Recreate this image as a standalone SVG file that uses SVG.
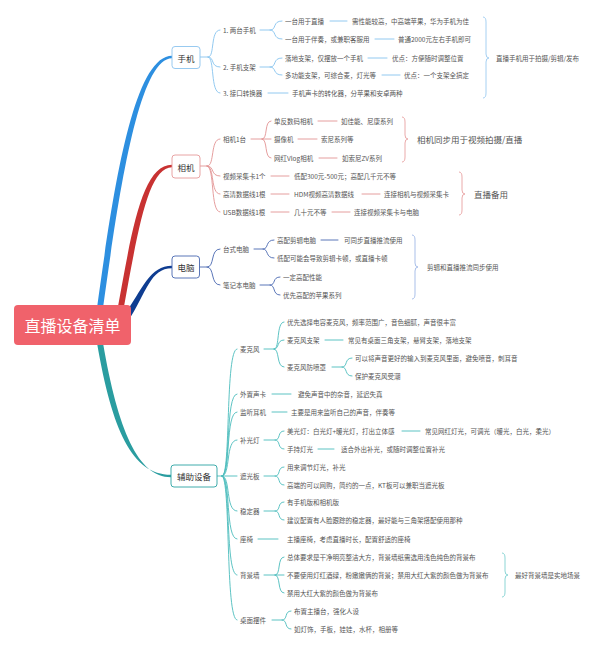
<svg xmlns="http://www.w3.org/2000/svg" width="600" height="651" viewBox="0 0 600 651">
<style>
text{font-family:"Noto Sans CJK SC","Noto Sans",sans-serif;dominant-baseline:central}
.t{font-size:6.5px;fill:#555}
.s2{font-size:8.5px;fill:#555}
.bl{font-size:8.5px;fill:#333;text-anchor:middle}
.root{font-size:16px;fill:#fff;text-anchor:middle}
.c{fill:none;stroke-width:0.9;stroke-linecap:round}
.cb{stroke:#86c3ee}.cr{stroke:#e29393}.cd{stroke:#4767b0}.ct{stroke:#4bbcbc}
.br{fill:none;stroke-width:0.9}
.box{fill:#fff;stroke-width:0.9}
</style>
<rect width="600" height="651" fill="#fff"/>
<g id="connectors">
  <path d="M97 308 C112 200 132 55.8 172 55.8 L172 58.2 C138 58.2 118 200 103 308 Z" fill="#2d8fe0"/>
  <path d="M117 312 C132 230 142 164.8 172 164.8 L172 167.2 C148 167.2 138 230 123 312 Z" fill="#c83232"/>
  <path d="M122.5 318 C143 288 150 265.8 172 265.8 L172 268.2 C150 268.2 147 292 127.5 322 Z" fill="#0f3d91"/>
  <path d="M97 343 C112 430 132 474.8 171 474.8 L171 477.2 C138 477.2 118 430 103 343 Z" fill="#2a9da0"/>
  <g class="c cb">
    <path d="M200 57 H208 C215 57 210 30 220 30"/>
    <path d="M208 57 C215 57 210 67 220 67"/>
    <path d="M208 57 C215 57 210 93 220 93"/>
    <path d="M260 30 H270 C277 30 272 21 282 21"/>
    <path d="M270 30 C277 30 272 39 282 39"/>
    <path d="M330 21 H347"/>
    <path d="M375 39 H394"/>
    <path d="M260 67 H270 C277 67 272 58 282 58"/>
    <path d="M270 67 C277 67 272 75 282 75"/>
    <path d="M368 58 H387"/>
    <path d="M382 75 H400"/>
    <path d="M268 93 H288"/>
  </g>
  <path class="br" stroke="#9ccbf0" d="M483 17 Q486 17 486 22 L486 54 Q486 58 489 58 Q486 58 486 62 L486 93 Q486 98 483 98"/>
  <g class="c cr">
    <path d="M200 166 H207 C215 166 210 139 220 139"/>
    <path d="M207 166 C215 166 210 176 220 176"/>
    <path d="M207 166 C215 166 210 194 220 194"/>
    <path d="M207 166 C215 166 210 212 220 212"/>
    <path d="M251 139 H262 C268 139 264 121 271 121"/>
    <path d="M262 139 H271"/>
    <path d="M262 139 C268 139 264 158 271 158"/>
    <path d="M318 121 H337"/>
    <path d="M298 139 H317"/>
    <path d="M319 158 H337"/>
    <path d="M271 176 H289"/>
    <path d="M271 194 H289"/>
    <path d="M362 194 H380"/>
    <path d="M271 212 H289"/>
    <path d="M332 212 H350"/>
  </g>
  <path class="br" stroke="#e8a0a0" d="M402 117 Q405 117 405 122 L405 135 Q405 139 408 139 Q405 139 405 143 L405 157 Q405 162 402 162"/>
  <path class="br" stroke="#e8a0a0" d="M459 172 Q462 172 462 177 L462 190 Q462 194 465 194 Q462 194 462 198 L462 210 Q462 215 459 215"/>
  <g class="c cd">
    <path d="M199 267 H207 C215 267 210 249 220 249"/>
    <path d="M207 267 C215 267 210 285 220 285"/>
    <path d="M254 249 H263 C269 249 265 240 274 240"/>
    <path d="M263 249 C269 249 265 258 274 258"/>
    <path d="M321 240 H338"/>
    <path d="M260 285 H270 C276 285 272 277 280 277"/>
    <path d="M270 285 C276 285 272 295 280 295"/>
  </g>
  <path class="br" stroke="#9fb8e6" d="M412 235 Q415 235 415 240 L415 263 Q415 267 418 267 Q415 267 415 271 L415 294 Q415 299 412 299"/>
  <g class="c ct">
    <path d="M217 476 H222 C231 476 225 349 237 349"/>
    <path d="M222 476 C231 476 225 394 237 394"/>
    <path d="M222 476 C231 476 225 412 237 412"/>
    <path d="M222 476 C231 476 225 440 237 440"/>
    <path d="M222 476 H237"/>
    <path d="M222 476 C231 476 225 511 237 511"/>
    <path d="M222 476 C231 476 225 539 237 539"/>
    <path d="M222 476 C231 476 225 575 237 575"/>
    <path d="M222 476 C231 476 225 620 237 620"/>
    <path d="M264 349 H274 C280 349 276 322 284 322"/>
    <path d="M274 349 C280 349 276 340 284 340"/>
    <path d="M274 349 C280 349 276 367 284 367"/>
    <path d="M325 340 H343"/>
    <path d="M332 367 H342 C348 367 344 358 352 358"/>
    <path d="M342 367 C348 367 344 376 352 376"/>
    <path d="M272 394 H291"/>
    <path d="M272 412 H287"/>
    <path d="M264 440 H275 C281 440 277 431 284 431"/>
    <path d="M275 440 C281 440 277 449 284 449"/>
    <path d="M402 431 H420"/>
    <path d="M318 449 H334"/>
    <path d="M264 476 H275 C281 476 277 467 284 467"/>
    <path d="M275 476 C281 476 277 485 284 485"/>
    <path d="M264 511 H275 C281 511 277 502 284 502"/>
    <path d="M275 511 C281 511 277 520 284 520"/>
    <path d="M258 539 H278"/>
    <path d="M264 575 H275 C281 575 277 557 284 557"/>
    <path d="M275 575 H284"/>
    <path d="M275 575 C281 575 277 593 284 593"/>
    <path d="M272 620 H282 C288 620 284 611 291 611"/>
    <path d="M282 620 C288 620 284 629 291 629"/>
  </g>
  <path class="br" stroke="#7fd0d0" d="M502 553 Q505 553 505 558 L505 571 Q505 575 508 575 Q505 575 505 579 L505 592 Q505 597 502 597"/>
</g>
<g id="root"><rect x="14" y="305" width="117" height="40" rx="4" fill="#f0626b"/><text class="root" x="72.5" y="325">直播设备清单</text></g>
<g id="phone"><rect class="box" x="172" y="46.5" width="28" height="22" rx="3" stroke="#8cc4ee"/><text class="bl" x="186" y="57.5">手机</text></g>
<g id="p1"><text class="t" x="223" y="30">1. 两台手机</text></g>
<g id="p1a"><text class="t" x="285" y="21">一台用于直播</text></g>
<g id="p1a1"><text class="t" x="352" y="21">需性能较高，中高端苹果，华为手机为佳</text></g>
<g id="p1b"><text class="t" x="285" y="39">一台用于伴奏，或兼职客服用</text></g>
<g id="p1b1"><text class="t" x="398" y="39">普通2000元左右手机即可</text></g>
<g id="p2"><text class="t" x="223" y="67">2. 手机支架</text></g>
<g id="p2a"><text class="t" x="285" y="58">落地支架，仅摆放一个手机</text></g>
<g id="p2a1"><text class="t" x="392" y="58">优点：方便随时调整位置</text></g>
<g id="p2b"><text class="t" x="285" y="75">多功能支架，可综合麦，灯光等</text></g>
<g id="p2b1"><text class="t" x="404" y="75">优点：一个支架全搞定</text></g>
<g id="p3"><text class="t" x="223" y="93">3. 接口转换器</text></g>
<g id="p3a"><text class="t" x="292" y="93">手机声卡的转化器，分苹果和安卓两种</text></g>
<g id="psum"><text class="t" x="496" y="58">直播手机用于拍摄/剪辑/发布</text></g>
<g id="camera"><rect class="box" x="172" y="155" width="28" height="23" rx="3" stroke="#e59a9a"/><text class="bl" x="186" y="166.5">相机</text></g>
<g id="c1"><text class="t" x="223" y="139">相机1台</text></g>
<g id="c1a"><text class="t" x="274" y="121">单反数码相机</text></g>
<g id="c1a1"><text class="t" x="341" y="121">如佳能、尼康系列</text></g>
<g id="c1b"><text class="t" x="274" y="139">摄像机</text></g>
<g id="c1b1"><text class="t" x="321" y="139">索尼系列等</text></g>
<g id="c1c"><text class="t" x="274" y="158">网红Vlog相机</text></g>
<g id="c1c1"><text class="t" x="342" y="158">如索尼ZV系列</text></g>
<g id="csum1"><text class="s2" x="417" y="139">相机同步用于视频拍摄/直播</text></g>
<g id="c2"><text class="t" x="223" y="176">视频采集卡1个</text></g>
<g id="c2a"><text class="t" x="294" y="176">低配300元-500元；高配几千元不等</text></g>
<g id="c3"><text class="t" x="223" y="194">高清数据线1根</text></g>
<g id="c3a"><text class="t" x="294" y="194">HDM视频高清数据线</text></g>
<g id="c3b"><text class="t" x="384" y="194">连接相机与视频采集卡</text></g>
<g id="c4"><text class="t" x="223" y="212">USB数据线1根</text></g>
<g id="c4a"><text class="t" x="294" y="212">几十元不等</text></g>
<g id="c4b"><text class="t" x="354" y="212">连接视频采集卡与电脑</text></g>
<g id="csum2"><text class="s2" x="474" y="194">直播备用</text></g>
<g id="pc"><rect class="box" x="172" y="256" width="27.5" height="22" rx="3" stroke="#4767b0"/><text class="bl" x="186" y="267">电脑</text></g>
<g id="d1"><text class="t" x="223" y="249">台式电脑</text></g>
<g id="d1a"><text class="t" x="277" y="240">高配剪辑电脑</text></g>
<g id="d1a1"><text class="t" x="344" y="240">可同步直播推流使用</text></g>
<g id="d1b"><text class="t" x="277" y="258">低配可能会导致剪辑卡顿，或直播卡顿</text></g>
<g id="d2"><text class="t" x="223" y="285">笔记本电脑</text></g>
<g id="d2a"><text class="t" x="283" y="277">一定高配性能</text></g>
<g id="d2b"><text class="t" x="283" y="295">优先高配的苹果系列</text></g>
<g id="dsum"><text class="t" x="427" y="267">剪辑和直播推流同步使用</text></g>
<g id="aux"><rect class="box" x="171" y="465" width="46" height="22" rx="3" stroke="#2aa3a3"/><text class="bl" x="194" y="476">辅助设备</text></g>
<g id="a1"><text class="t" x="240" y="349">麦克风</text></g>
<g id="a1a"><text class="t" x="287" y="322">优先选择电容麦克风，频率范围广，音色细腻，声音很丰富</text></g>
<g id="a1b"><text class="t" x="287" y="340">麦克风支架</text></g>
<g id="a1b1"><text class="t" x="348" y="340">常见有桌面三角支架，悬臂支架，落地支架</text></g>
<g id="a1c"><text class="t" x="287" y="367">麦克风防喷罩</text></g>
<g id="a1c1"><text class="t" x="355" y="358">可以将声音更好的输入到麦克风里面，避免喷音，刺耳音</text></g>
<g id="a1c2"><text class="t" x="355" y="376">保护麦克风受潮</text></g>
<g id="a2"><text class="t" x="240" y="394">外置声卡</text></g>
<g id="a2a"><text class="t" x="298" y="394">避免声音中的杂音，延迟失真</text></g>
<g id="a3"><text class="t" x="240" y="412">监听耳机</text></g>
<g id="a3a"><text class="t" x="291" y="412">主要是用来监听自己的声音，伴奏等</text></g>
<g id="a4"><text class="t" x="240" y="440">补光灯</text></g>
<g id="a4a"><text class="t" x="287" y="431">美光灯：白光灯+暖光灯，打出立体感</text></g>
<g id="a4a1"><text class="t" x="425" y="431">常见网红灯光，可调光（暖光，白光，柔光）</text></g>
<g id="a4b"><text class="t" x="287" y="449">手持灯光</text></g>
<g id="a4b1"><text class="t" x="341" y="449">适合外出补光，或随时调整位置补光</text></g>
<g id="a5"><text class="t" x="240" y="476">遮光板</text></g>
<g id="a5a"><text class="t" x="287" y="467">用来调节灯光，补光</text></g>
<g id="a5b"><text class="t" x="287" y="485">高端的可以网购，简约的一点，KT板可以兼职当遮光板</text></g>
<g id="a6"><text class="t" x="240" y="511">稳定器</text></g>
<g id="a6a"><text class="t" x="287" y="502">有手机版和相机版</text></g>
<g id="a6b"><text class="t" x="287" y="520">建议配置有人脸跟踪的稳定器，最好能与三角架搭配使用那种</text></g>
<g id="a7"><text class="t" x="240" y="539">座椅</text></g>
<g id="a7a"><text class="t" x="287" y="539">主播座椅，考虑直播时长，配置舒适的座椅</text></g>
<g id="a8"><text class="t" x="240" y="575">背景墙</text></g>
<g id="a8a"><text class="t" x="287" y="557">总体要求是干净明亮整洁大方，背景墙纸需选用浅色纯色的背景布</text></g>
<g id="a8b"><text class="t" x="287" y="575">不要使用灯红酒绿，粉嫩嫩俩的背景；禁用大红大紫的颜色做为背景布</text></g>
<g id="a8c"><text class="t" x="287" y="593">禁用大红大紫的颜色做为背景布</text></g>
<g id="a8sum"><text class="t" x="515" y="575">最好背景墙是实地场景</text></g>
<g id="a9"><text class="t" x="240" y="620">桌面摆件</text></g>
<g id="a9a"><text class="t" x="294" y="611">布置主播台，强化人设</text></g>
<g id="a9b"><text class="t" x="294" y="629">如灯饰，手板，娃娃，水杯，相册等</text></g>
</svg>
